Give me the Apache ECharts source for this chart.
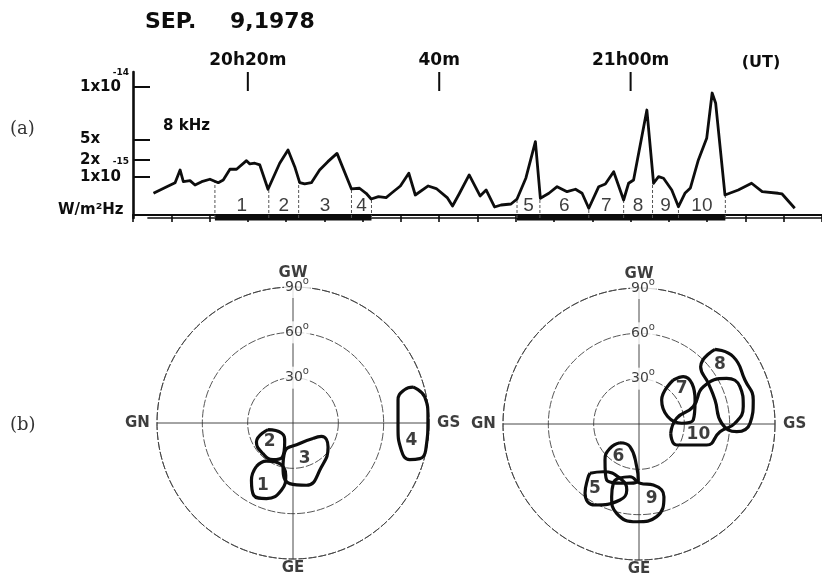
<!DOCTYPE html>
<html><head><meta charset="utf-8">
<script src="https://cdn.jsdelivr.net/npm/echarts@6/dist/echarts.min.js"></script>
<style>html,body{margin:0;padding:0;background:#fff}#c{width:822px;height:579px}</style>
</head><body><div id="c"></div>
<script>
// ---------- (a) 8 kHz intensity time series ----------
// time in minutes after 20h00m UT
const traceT = [10.14,11.53,12.40,12.92,13.26,13.96,14.48,15.18,16.04,16.91,17.43,18.13,18.82,19.86,20.21,20.73,21.25,22.11,23.33,24.20,24.90,25.42,25.94,26.64,27.50,28.36,29.32,30.83,31.67,32.36,32.89,33.65,34.45,35.0,35.94,36.82,37.50,38.85,39.69,40.83,41.39,42.08,43.13,44.27,44.90,45.78,46.46,47.50,48.13,49.06,50.05,50.57,51.46,52.32,53.36,54.24,54.93,55.63,56.67,57.36,58.23,59.27,59.79,60.31,61.70,62.40,62.92,63.44,64.30,65.0,65.70,66.25,67.08,67.95,68.52,68.89,69.86,71.25,72.64,73.75,75.42,75.83,77.15];
// relative level (chart units)
const traceL = [15.2,19.8,22.6,31.5,23.3,24.0,21.0,23.3,25.0,22.6,24.5,32.0,32.0,38.0,35.7,36.2,35.0,18.0,36.2,45.5,33.8,22.6,21.7,22.6,31.5,37.3,43.1,18.2,18.7,15.2,11.2,12.9,12.2,15.2,20.3,29.2,14.0,20.3,18.5,12.2,6.3,14.7,28.0,13.3,17.5,5.6,7.0,7.7,11.2,25.9,51.3,11.7,15.2,19.8,16.3,18.0,15.2,4.7,19.8,21.7,30.3,10.5,22.2,24.5,73.4,22.2,26.8,25.7,17.5,5.8,15.4,18.9,38.5,53.6,85.3,78.1,14.0,17.5,22.2,16.4,15.2,14.7,4.7];

// numbered analysis intervals
const segStart = [16.56,22.19,25.31,30.83,48.13,50.52,55.63,59.27,62.29,65.0];
const segEnd   = [22.19,25.31,30.83,32.92,50.52,55.63,59.27,62.29,65.0,69.9];
const segNames = ['1','2','3','4','5','6','7','8','9','10'];
const dividerT   = [16.56,22.19,25.31,30.83,32.92,48.13,50.52,55.63,59.27,62.29,65.0,69.9];
const dividerTop = [23.8,18.0,23.0,18.2,11.2,11.2,11.7,4.7,10.5,22.0,5.8,14.0];
const barRuns = [[16.56,32.92],[48.13,69.9]];

// axis ticks / labels
const xMajorTicks = [20,40,60];
const xMajorLabels = ['20h20m','40m','21h00m'];
const yTickLevels = [26.8,38.7,52.8,89.4];
const yTickLabels = ['1x10','2x','5x','1x10'];
const yTickExp    = ['-15','','','-14'];

// ---------- (b) arrival-direction contours (projected, degrees) ----------
const blob1 = [[-24.2,-28.7],[-17.6,-25.2],[-8.8,-26.9],[-4.8,-34.6],[-7.7,-44.5],[-17.6,-50.0],[-26.0,-47.9],[-27.5,-37.9]];
const blob2 = [[-16.5,-4.4],[-7.7,-6.6],[-5.5,-12.6],[-7.0,-22.5],[-13.2,-24.2],[-19.9,-20.3],[-24.2,-12.6]];
const blob3 = [[13.2,-10.3],[18.8,-8.8],[23.2,-15.9],[18.8,-29.1],[8.9,-41.2],[-2.2,-40.1],[-6.6,-29.1],[-5.5,-19.2],[4.4,-13.6]];
const blob4 = [[79.4,23.8],[87.2,17.2],[89.3,4.0],[87.8,-18.1],[83.9,-23.6],[77.2,-24.2],[71.7,-18.1],[69.5,-2.6],[69.5,15.0],[73.9,22.1]];
const blob5 = [[-32.4,-32.6],[-23.6,-31.6],[-12.6,-35.9],[-8.1,-43.7],[-12.6,-50.3],[-29.1,-53.6],[-35.7,-45.9],[-33.8,-35.7]];
const blob6 = [[-12.6,-12.4],[-6.0,-15.0],[-1.5,-28.3],[-0.5,-37.1],[-8.1,-39.2],[-21.4,-37.1],[-22.5,-23.8],[-19.2,-16.1]];
const blob7 = [[22.7,29.1],[29.3,31.3],[37.1,15.9],[35.9,2.6],[28.3,0.5],[15.0,15.9]];
const blob8 = [[50.3,49.4],[62.4,44.5],[70.1,29.1],[75.6,15.9],[73.5,0.5],[64.7,-5.1],[54.7,0.5],[50.3,15.9],[45.9,26.9],[40.8,37.9]];
const blob9 = [[-13.7,-35.9],[-6.0,-34.9],[0.7,-39.2],[9.5,-40.4],[16.5,-48.1],[11.7,-61.3],[-1.5,-64.7],[-14.8,-59.1],[-18.1,-48.1],[-17.0,-39.2]];
const blob10 = [[21.0,-6.2],[24.9,3.8],[35.9,11.5],[42.6,24.7],[58.0,30.2],[66.8,24.7],[69.0,11.5],[63.5,0.5],[53.6,-5.1],[44.8,-13.9],[24.9,-13.9]];
const leftBlobs = [blob1,blob2,blob3,blob4];
const rightBlobs = [blob5,blob6,blob7,blob8,blob9,blob10];
const leftNums = [[-19.9,-41.2,'1'],[-15.4,-12.6,'2'],[7.7,-23.6,'3'],[78.4,-11.5,'4']];
const rightNums = [[-29.1,-42.6,'5'],[-13.7,-21.6,'6'],[28.3,23.6,'7'],[53.6,39.1,'8'],[8.4,-49.2,'9'],[39.3,-6.8,'10']];
const ringVals = [30,60,90];
const dirLabels = [[-103,0,'GN'],[103,0,'GS'],[0,99,'GW'],[0,-96,'GE']];

// ---------- build ----------
const INK = '#0d0d0d';
const BOLD = 'DejaVu Sans';
const chart = echarts.init(document.getElementById('c'), null, {renderer:'canvas'});

function closed(a){ return a.concat([a[0]]); }
const Y0 = -2.1, YMAX = 100;
const dividerData = [];
dividerT.forEach((t,i)=>{ dividerData.push([t,Y0],[t,dividerTop[i]],[t,'-']); });
const barData = [];
barRuns.forEach(r=>{ barData.push([r[0],Y0],[r[1],Y0],[r[1],'-']); });
const segLabelData = segNames.map((n,i)=>[(segStart[i]+segEnd[i])/2, 6.8, n]);
const majorTickData = [];
xMajorTicks.forEach(t=>{ majorTickData.push([t,YMAX],[t,YMAX-13.3],[t,'-']); });

const polarCenters = [[293,423],[639,424]];
const R = 136;
const ringLine = {color:'#444', width:0.9, type:[8,2]};

const series = [];
series.push({type:'line', xAxisIndex:0, yAxisIndex:0, data: traceT.map((t,i)=>[t,traceL[i]]),
  symbol:'none', lineStyle:{color:INK, width:2.8, join:'round'}, z:5});
series.push({type:'line', xAxisIndex:0, yAxisIndex:0, clip:false, data:[[9.5,Y0],[80,Y0]],
  symbol:'none', lineStyle:{color:INK, width:1.6}});
series.push({type:'line', xAxisIndex:0, yAxisIndex:0, clip:false, data:barData, connectNulls:false,
  symbol:'none', lineStyle:{color:INK, width:5}});
series.push({type:'line', xAxisIndex:0, yAxisIndex:0, clip:false, data:dividerData, connectNulls:false,
  symbol:'none', lineStyle:{color:'#555', width:1, type:[3,2]}});
series.push({type:'line', xAxisIndex:0, yAxisIndex:0, clip:false, data:majorTickData, connectNulls:false,
  symbol:'none', lineStyle:{color:INK, width:2}});
series.push({type:'scatter', xAxisIndex:0, yAxisIndex:0, data:segLabelData, symbolSize:0,
  label:{show:true, position:'inside', formatter:p=>p.data[2], fontFamily:'Liberation Sans', fontSize:19, color:INK}, z:6});

function polarSeries(blobs, nums, idx){
  blobs.forEach(b=>{
    series.push({type:'line', xAxisIndex:idx, yAxisIndex:idx, data:closed(b), smooth:0.5, symbol:'none',
      lineStyle:{color:INK, width:3.2}, z:5});
  });
  series.push({type:'scatter', xAxisIndex:idx, yAxisIndex:idx, data:nums, symbolSize:0, z:7,
    label:{show:true, position:'inside', formatter:p=>p.data[2], fontFamily:BOLD, fontWeight:'bold', fontSize:17, color:INK}});
  series.push({type:'scatter', xAxisIndex:idx, yAxisIndex:idx, data:ringVals.map(v=>[0,v,String(v)]), symbolSize:0, z:8,
    label:{show:true, position:'inside', offset:[4,0], formatter:p=>'{n|'+p.data[2]+'}{d|o}', backgroundColor:'#fff', padding:[0,1],
      rich:{n:{fontFamily:'DejaVu Sans', fontSize:14, color:INK, lineHeight:22}, d:{fontFamily:'DejaVu Sans', fontSize:10, color:INK, verticalAlign:'top', lineHeight:10}}}});
  series.push({type:'scatter', xAxisIndex:idx, yAxisIndex:idx, clip:false, data:dirLabels, symbolSize:0, z:8,
    label:{show:true, position:'inside', formatter:p=>p.data[2], fontFamily:BOLD, fontWeight:'bold', fontSize:15, color:INK}});
}
polarSeries(leftBlobs, leftNums, 1);
polarSeries(rightBlobs, rightNums, 2);

function findIdx(arr, v){ let b=0; arr.forEach((a,i)=>{ if(Math.abs(a-v)<Math.abs(arr[b]-v)) b=i; }); return b; }

const option = {
  backgroundColor:'#fff',
  animation:false,
  grid:[
    {left:133, top:72, width:691, height:146},
    {left:polarCenters[0][0]-R, top:polarCenters[0][1]-R, width:2*R, height:2*R},
    {left:polarCenters[1][0]-R, top:polarCenters[1][1]-R, width:2*R, height:2*R}
  ],
  xAxis:[
    {gridIndex:0, type:'value', position:'top', min:8, max:80, interval:4,
      axisLine:{show:true, lineStyle:{color:INK, width:2.2}},
      axisTick:{show:true, inside:true, length:7, lineStyle:{color:INK, width:1.6}},
      axisLabel:{show:true, customValues:xMajorTicks, margin:3, formatter:v=>xMajorLabels[findIdx(xMajorTicks,v)],
        fontFamily:BOLD, fontWeight:'bold', fontSize:17, color:INK},
      splitLine:{show:false}},
    {gridIndex:1, type:'value', min:-90, max:90, show:false},
    {gridIndex:2, type:'value', min:-90, max:90, show:false}
  ],
  yAxis:[
    {gridIndex:0, type:'value', min:Y0, max:YMAX,
      axisLine:{show:true, lineStyle:{color:INK, width:2.6}},
      axisTick:{show:true, inside:true, length:17, customValues:yTickLevels, lineStyle:{color:INK, width:2}},
      axisLabel:{show:true, customValues:yTickLevels, align:'left', margin:53, hideOverlap:false,
        formatter:v=>yTickLabels[findIdx(yTickLevels,v)],
        fontFamily:BOLD, fontWeight:'bold', fontSize:15, color:INK, lineHeight:15},
      splitLine:{show:false}},
    {gridIndex:1, type:'value', min:-90, max:90, show:false},
    {gridIndex:2, type:'value', min:-90, max:90, show:false}
  ],
  polar:[
    {center:polarCenters[0], radius:R},
    {center:polarCenters[1], radius:R}
  ],
  angleAxis:[0,1].map(i=>({polarIndex:i, type:'value', min:0, max:360, interval:90, startAngle:0, clockwise:false,
    axisLine:{show:true, lineStyle:ringLine}, axisTick:{show:false}, axisLabel:{show:false},
    splitLine:{show:true, lineStyle:{color:'#333', width:0.9}}})),
  radiusAxis:[0,1].map(i=>({polarIndex:i, type:'value', min:0, max:90, interval:30,
    axisLine:{show:false}, axisTick:{show:false}, axisLabel:{show:false},
    splitLine:{show:true, lineStyle:ringLine}})),
  series: series
};
chart.setOption(option);

// static texts + tick-label exponents placed from the axis scale
const gfx = [
  {type:'text', x:145, y:22, style:{text:'SEP.', font:'bold 22px "DejaVu Sans"', fill:INK, textVerticalAlign:'middle'}},
  {type:'text', x:230, y:22, style:{text:'9,1978', font:'bold 22px "DejaVu Sans"', fill:INK, textVerticalAlign:'middle'}},
  {type:'text', x:761, y:63, style:{text:'(UT)', font:'bold 16px "DejaVu Sans"', fill:INK, textAlign:'center', textVerticalAlign:'middle'}},
  {type:'text', x:163, y:126, style:{text:'8 kHz', font:'bold 15px "DejaVu Sans"', fill:INK, textVerticalAlign:'middle'}},
  {type:'text', x:58, y:210, style:{text:'W/m²Hz', font:'bold 15px "DejaVu Sans"', fill:INK, textVerticalAlign:'middle'}},
  {type:'text', x:10, y:129, style:{text:'(a)', font:'18px "DejaVu Serif"', fill:'#333', textVerticalAlign:'middle'}},
  {type:'text', x:10, y:425, style:{text:'(b)', font:'18px "DejaVu Serif"', fill:'#333', textVerticalAlign:'middle'}}
];
yTickExp.forEach((e,i)=>{
  if(!e) return;
  const py = chart.convertToPixel({yAxisIndex:0}, yTickLevels[i]);
  gfx.push({type:'text', x:129, y:py-15, style:{text:e, font:'bold 9px "DejaVu Sans"', fill:INK, textAlign:'right', textVerticalAlign:'middle'}});
});
chart.setOption({graphic:gfx});
</script></body></html>
